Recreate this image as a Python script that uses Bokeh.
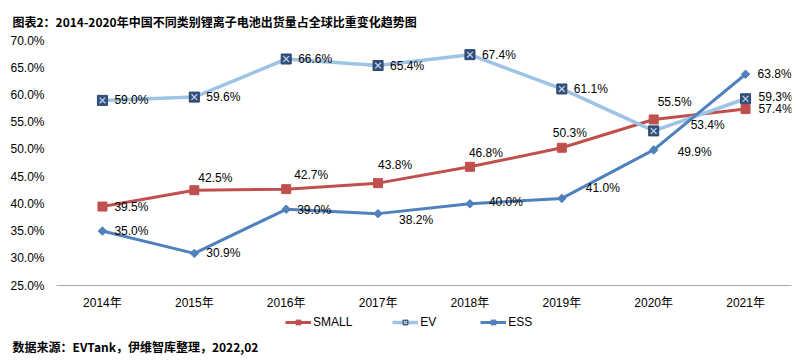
from bokeh.plotting import figure
from bokeh.layouts import column
from bokeh.models import (ColumnDataSource, FactorRange, Range1d, PrintfTickFormatter,
                          Legend, LegendItem, Title, FixedTicker)
from bokeh.core.properties import value
from bokeh.embed import file_html
from bokeh.resources import INLINE

# ---- data ----
years = ["2014年", "2015年", "2016年", "2017年", "2018年", "2019年", "2020年", "2021年"]
small = [39.5, 42.5, 42.7, 43.8, 46.8, 50.3, 55.5, 57.4]
ev = [59.0, 59.6, 66.6, 65.4, 67.4, 61.1, 53.4, 59.3]
ess = [35.0, 30.9, 39.0, 38.2, 40.0, 41.0, 49.9, 63.8]
y_ticks = [25, 30, 35, 40, 45, 50, 55, 60, 65, 70]
series_names = ["SMALL", "EV", "ESS"]

title_text = "图表2：2014-2020年中国不同类别锂离子电池出货量占全球比重变化趋势图"
source_text = "数据来源：EVTank，伊维智库整理，2022,02"

# label placement (pixel offsets, styling only)
small_dx = [12, 4, 8, 0, -1, -9, 4, 13]
small_dy = [0, -12, -14, -18, -14, -15, -17, 0]
ev_dx = [12, 12, 12, 12, 12, 12, 37, 13]
ev_dy = [0, 0, 0, 0, 0, 0, -6, -2]
ess_dx = [12, 12, 11, 21, 19, 24, 24, 12]
ess_dy = [0, 0, 1, 6, -2, -10, 2, 0]

FONT = "Liberation Sans, Noto Sans CJK SC"
CJK_BOLD = "Noto Sans CJK SC"

RED = "#C0504D"
LIGHT = "#9DC3E6"
NAVY = "#34527F"
BLUE = "#4F81BD"

p = figure(width=803, height=312, x_range=FactorRange(*years), y_range=Range1d(25, 70),
           output_backend="svg", toolbar_location=None,
           min_border_left=56, min_border_right=12, min_border_top=40, min_border_bottom=27)
p.outline_line_color = None
p.xgrid.grid_line_color = None
p.ygrid.grid_line_color = None
p.background_fill_color = "white"
p.x_range.range_padding = 0

# title
p.title.text = title_text
p.title.text_font = CJK_BOLD
p.title.text_font_style = "bold"
p.title.text_font_size = "12px"
p.title.text_color = "#000000"
p.title.align = "left"
p.title.offset = -44
p.title.standoff = 21

# axes
p.yaxis.ticker = FixedTicker(ticks=y_ticks)
p.yaxis.formatter = PrintfTickFormatter(format="%.1f%%")
p.yaxis.axis_line_color = None
p.yaxis.major_tick_line_color = None
p.yaxis.minor_tick_line_color = None
p.yaxis.major_label_standoff = 6
p.yaxis.major_label_text_font = FONT
p.yaxis.major_label_text_font_size = "12px"
p.yaxis.major_label_text_color = "#000000"

p.xaxis.axis_line_color = "#A6A6A6"
p.xaxis.axis_line_width = 1
p.xaxis.major_tick_line_color = None
p.xaxis.minor_tick_line_color = None
p.xaxis.major_label_standoff = 4
p.xaxis.major_label_text_font = FONT
p.xaxis.major_label_text_font_size = "12px"
p.xaxis.major_label_text_color = "#000000"

src = ColumnDataSource(dict(x=years, small=small, ev=ev, ess=ess,
                            small_lbl=[f"{v:.1f}%" for v in small],
                            ev_lbl=[f"{v:.1f}%" for v in ev],
                            ess_lbl=[f"{v:.1f}%" for v in ess],
                            small_dx=small_dx, small_dy=small_dy,
                            ev_dx=ev_dx, ev_dy=ev_dy,
                            ess_dx=ess_dx, ess_dy=ess_dy))


def draw_series(fig, source):
    rs = []
    rs.append([fig.line("x", "small", source=source, line_color=RED, line_width=3),
               fig.scatter("x", "small", source=source, marker="square", size=9,
                           fill_color=RED, line_color=RED)])
    rs.append([fig.line("x", "ev", source=source, line_color=LIGHT, line_width=3.5),
               fig.scatter("x", "ev", source=source, marker="square", size=10,
                           fill_color=NAVY, line_color="#2A4468", line_width=1),
               fig.scatter("x", "ev", source=source, marker="x", size=8,
                           line_color="#C8D8EC", line_width=1.2)])
    rs.append([fig.line("x", "ess", source=source, line_color=BLUE, line_width=3),
               fig.scatter("x", "ess", source=source, marker="square", size=6,
                           angle=0.785398, fill_color=BLUE, line_color=BLUE)])
    return rs


draw_series(p, src)

# data labels
for key in ["small", "ev", "ess"]:
    p.text("x", key, text=key + "_lbl", source=src, x_offset=key + "_dx", y_offset=key + "_dy",
           text_font=value("Liberation Sans"), text_font_size="12px", text_color="#000000",
           text_align="left", text_baseline="middle")

# ---- bottom strip: legend + source ----
# same scales; its y window lies outside the data, so only the legend shows
p2 = figure(width=803, height=51, x_range=p.x_range, y_range=Range1d(0, 1),
            output_backend="svg", toolbar_location=None,
            min_border_left=56, min_border_right=12, min_border_top=0, min_border_bottom=28)
p2.axis.visible = False
p2.xgrid.visible = False
p2.ygrid.visible = False
p2.outline_line_color = None

leg_rs = draw_series(p2, src)

legend = Legend(items=[LegendItem(label=n, renderers=r) for n, r in zip(series_names, leg_rs)],
                orientation="horizontal", location=(229, 6))
legend.border_line_color = None
legend.background_fill_alpha = 0
legend.label_text_font = "Liberation Sans"
legend.label_text_font_size = "12px"
legend.label_text_color = "#000000"
legend.glyph_width = 26
legend.glyph_height = 12
legend.label_standoff = 2
legend.spacing = 40
legend.padding = 2
legend.margin = 0
p2.add_layout(legend)

p2.add_layout(Title(text=source_text, align="left", offset=-44, text_font=CJK_BOLD,
                    text_font_style="bold", text_font_size="12px", text_color="#000000",
                    standoff=0), "below")

layout = column(p, p2, spacing=0)
open("out.html", "w").write(file_html(layout, INLINE))
